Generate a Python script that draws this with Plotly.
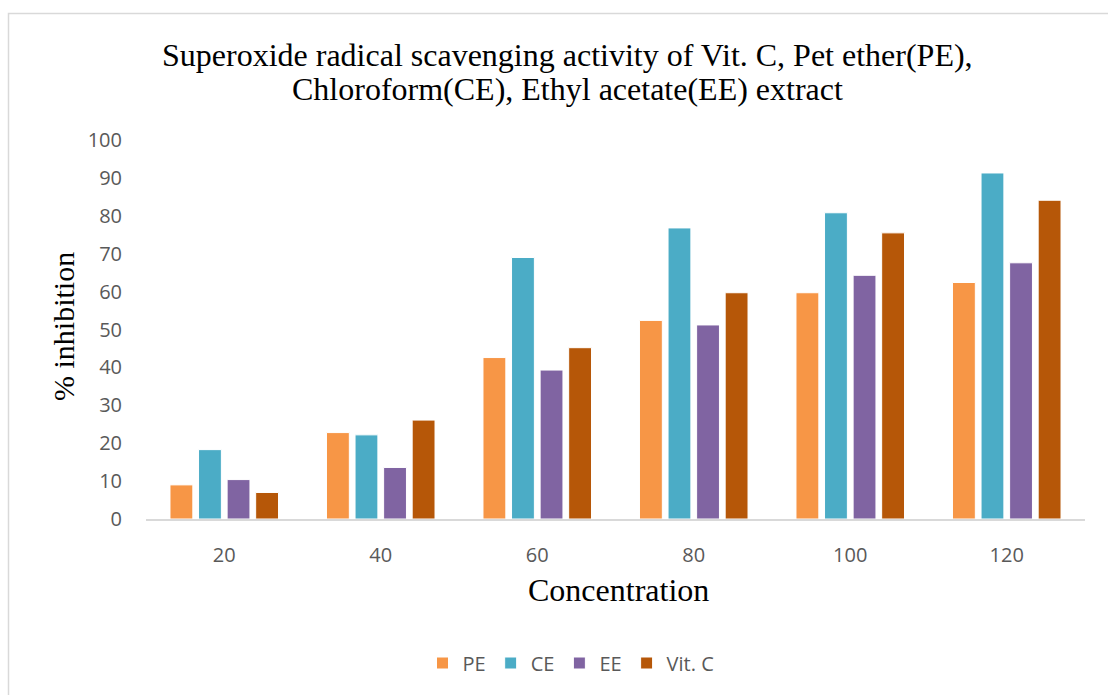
import plotly.graph_objects as go

categories = ["20", "40", "60", "80", "100", "120"]
pe = [9.0, 22.8, 42.6, 52.4, 59.7, 62.4]
ce = [18.3, 22.2, 69.0, 76.8, 80.8, 91.3]
ee = [10.4, 13.6, 39.3, 51.2, 64.3, 67.6]
vitc = [7.0, 26.1, 45.2, 59.7, 75.5, 84.1]
series_names = ["PE", "CE", "EE", "Vit. C"]
colors = ["#F79646", "#4BACC6", "#8064A2", "#B65708"]
y_ticks = [0, 10, 20, 30, 40, 50, 60, 70, 80, 90, 100]
title_lines = ["Superoxide radical scavenging activity of Vit. C, Pet ether(PE),",
               "Chloroform(CE), Ethyl acetate(EE) extract"]

W, H = 1108, 695
L, R, T, B = 146, 23, 140, 176
PW, PH = W - L - R, H - T - B

def px(x):
    return (x - L) / PW

def py(y):
    return (H - B - y) / PH

fig = go.Figure()
for name, vals, col in zip(series_names, [pe, ce, ee, vitc], colors):
    fig.add_trace(go.Bar(
        x=categories, y=vals, name=name,
        marker=dict(color=col, line=dict(color="white", width=1)),
    ))

annotations = []
for line, yc in zip(title_lines, [55, 89]):
    annotations.append(dict(text=line, xref="paper", yref="paper", x=px(567), y=py(yc),
                            xanchor="center", yanchor="middle", showarrow=False,
                            font=dict(family="Liberation Serif", size=32, color="black")))
annotations += [
    dict(text="% inhibition", xref="paper", yref="paper", x=px(63), y=py(327),
         xanchor="center", yanchor="middle", textangle=-90, showarrow=False,
         font=dict(family="Liberation Serif", size=30, color="black")),
    dict(text="Concentration", xref="paper", yref="paper", x=px(618), y=py(590),
         xanchor="center", yanchor="middle", showarrow=False,
         font=dict(family="Liberation Serif", size=32, color="black")),
]

fig.update_layout(
    width=W, height=H,
    margin=dict(l=L, r=R, t=T, b=B),
    paper_bgcolor="white", plot_bgcolor="white",
    barmode="group", bargap=0.27, bargroupgap=0.2,
    font=dict(family="Open Sans", color="#595959", size=19),
    showlegend=True,
    legend=dict(orientation="h", x=px(571), y=py(663), xanchor="center", yanchor="middle",
                font=dict(family="Open Sans", size=20, color="#595959"),
                itemwidth=30, tracegroupgap=0),
    xaxis=dict(showline=True, linecolor="#d9d9d9", linewidth=1.5, showgrid=False,
               ticks="", tickfont=dict(family="Open Sans", size=20, color="#595959"),
               ticklabelstandoff=17, zeroline=False),
    yaxis=dict(range=[0, 100], tickvals=y_ticks, showgrid=False, showline=False,
               zeroline=False, ticks="",
               tickfont=dict(family="Open Sans", size=20, color="#595959"),
               ticklabelstandoff=23),
    shapes=[dict(type="rect", xref="paper", yref="paper",
                 x0=px(8.5), x1=px(1115), y0=py(702), y1=py(13.5),
                 line=dict(color="#d9d9d9", width=1.5), layer="below")],
    annotations=annotations,
)

fig.write_html("out.html")
